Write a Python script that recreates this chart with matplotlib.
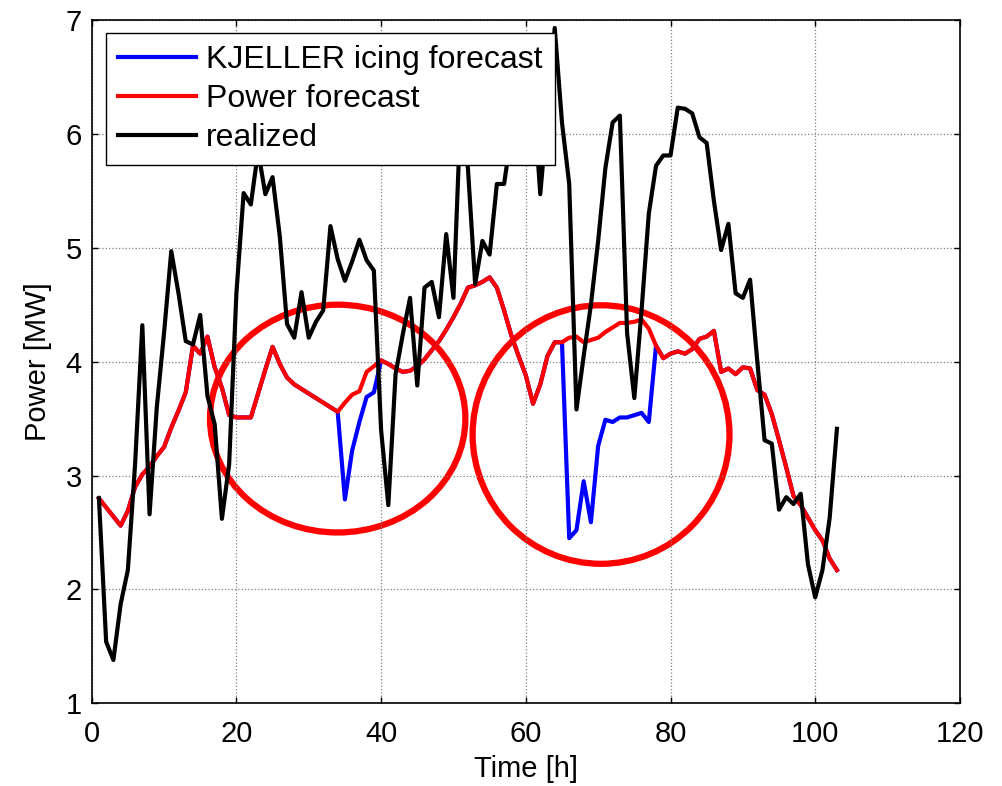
import numpy as np
import matplotlib
matplotlib.use("Agg")
import matplotlib.pyplot as plt
from matplotlib.patches import Ellipse

plt.rcParams['font.family'] = ['Liberation Sans', 'DejaVu Sans']

# Hours
hours = np.arange(1, 104)

# Realized production [MW]
realized = [
    2.80, 1.54, 1.38, 1.87, 2.17, 3.10, 4.32, 2.66, 3.60, 4.25,
    4.97, 4.60, 4.18, 4.15, 4.41, 3.70, 3.45, 2.62, 3.10, 4.60,
    5.48, 5.38, 5.85, 5.47, 5.62, 5.10, 4.33, 4.21, 4.61, 4.21,
    4.35, 4.45, 5.19, 4.90, 4.71, 4.88, 5.07, 4.89, 4.80, 3.40,
    2.74, 3.89, 4.24, 4.56, 3.79, 4.65, 4.70, 4.39, 5.12, 4.56,
    6.20, 5.70, 4.68, 5.06, 4.94, 5.56, 5.56, 6.00, 6.30, 6.20,
    6.40, 5.47, 6.20, 6.93, 6.10, 5.56, 3.58, 4.05, 4.50, 5.06,
    5.70, 6.10, 6.16, 4.25, 3.68, 4.45, 5.30, 5.72, 5.81, 5.81,
    6.23, 6.22, 6.18, 5.97, 5.92, 5.41, 4.98, 5.21, 4.60, 4.56,
    4.72, 4.00, 3.31, 3.28, 2.70, 2.81, 2.75, 2.84, 2.22, 1.93,
    2.17, 2.63, 3.41,
]

# Power forecast [MW]
power_forecast = [
    2.80, 2.72, 2.64, 2.56, 2.69, 2.90, 3.01, 3.08, 3.17, 3.25,
    3.42, 3.57, 3.73, 4.14, 4.07, 4.22, 3.95, 3.77, 3.53, 3.51,
    3.51, 3.51, 3.72, 3.93, 4.13, 3.98, 3.86, 3.80, 3.76, 3.72,
    3.68, 3.64, 3.60, 3.56, 3.64, 3.71, 3.74, 3.91, 3.96, 4.01,
    3.98, 3.94, 3.91, 3.92, 3.96, 4.02, 4.10, 4.18, 4.28, 4.39,
    4.51, 4.65, 4.67, 4.70, 4.74, 4.65, 4.45, 4.23, 4.05, 3.88,
    3.63, 3.80, 4.05, 4.17, 4.17, 4.21, 4.22, 4.17, 4.19, 4.21,
    4.26, 4.30, 4.34, 4.34, 4.35, 4.37, 4.29, 4.14, 4.03, 4.07,
    4.09, 4.07, 4.11, 4.20, 4.22, 4.27, 3.91, 3.94, 3.89, 3.95,
    3.94, 3.75, 3.71, 3.54, 3.31, 3.07, 2.82, 2.74, 2.63, 2.52,
    2.43, 2.27, 2.17,
]

# KJELLER icing forecast [MW]
icing_forecast = [
    2.80, 2.72, 2.64, 2.56, 2.69, 2.90, 3.01, 3.08, 3.17, 3.25,
    3.42, 3.57, 3.73, 4.14, 4.07, 4.22, 3.95, 3.77, 3.53, 3.51,
    3.51, 3.51, 3.72, 3.93, 4.13, 3.98, 3.86, 3.80, 3.76, 3.72,
    3.68, 3.64, 3.60, 3.56, 2.79, 3.22, 3.47, 3.69, 3.73, 4.01,
    3.98, 3.94, 3.91, 3.92, 3.96, 4.02, 4.10, 4.18, 4.28, 4.39,
    4.51, 4.65, 4.67, 4.70, 4.74, 4.65, 4.45, 4.23, 4.05, 3.88,
    3.63, 3.80, 4.05, 4.17, 4.17, 2.45, 2.52, 2.95, 2.59, 3.26,
    3.49, 3.47, 3.51, 3.51, 3.53, 3.55, 3.47, 4.14, 4.03, 4.07,
    4.09, 4.07, 4.11, 4.20, 4.22, 4.27, 3.91, 3.94, 3.89, 3.95,
    3.94, 3.75, 3.71, 3.54, 3.31, 3.07, 2.82, 2.74, 2.63, 2.52,
    2.43, 2.27, 2.17,
]

x_ticks = [0, 20, 40, 60, 80, 100, 120]
y_ticks = [1, 2, 3, 4, 5, 6, 7]

fig = plt.figure(figsize=(10.02, 7.86), dpi=100)
ax = fig.add_axes([0.0915, 0.1052, 0.8665, 0.8694])

ax.plot(hours, icing_forecast, color="#0000ff", lw=3, label="KJELLER icing forecast")
ax.plot(hours, power_forecast, color="#ff0000", lw=3, label="Power forecast")
ax.plot(hours, realized, color="black", lw=3, label="realized")

# circles marking the icing periods
ax.add_patch(Ellipse((34.0, 3.50), 35.3, 2.0, fill=False, edgecolor="#ff0000", lw=4.5))
ax.add_patch(Ellipse((70.4, 3.36), 35.5, 2.27, fill=False, edgecolor="#ff0000", lw=4.5))

ax.set_xlim(0, 120)
ax.set_ylim(1, 7)
ax.set_xticks(x_ticks)
ax.set_yticks(y_ticks)
ax.grid(True, linestyle=":", color="0.5", lw=0.9)
ax.tick_params(direction="in", top=True, right=True, length=4, width=1,
               labelsize=21)
ax.tick_params(axis="x", pad=12)
ax.tick_params(axis="y", pad=7)
for s in ax.spines.values():
    s.set_linewidth(1.2)

ax.set_xlabel("Time [h]", fontsize=21, labelpad=5)
ax.set_ylabel("Power [MW]", fontsize=21, labelpad=10)

leg = ax.legend(loc="upper left", bbox_to_anchor=(106 / 1002, 1 - 33 / 786),
                bbox_transform=fig.transFigure, borderaxespad=0,
                fontsize=23, handlelength=2.45, handletextpad=0.3,
                labelspacing=0.28, borderpad=0.38, fancybox=False,
                framealpha=1, edgecolor="black")
leg.get_frame().set_linewidth(1.0)

fig.savefig("out.png", dpi=100)
